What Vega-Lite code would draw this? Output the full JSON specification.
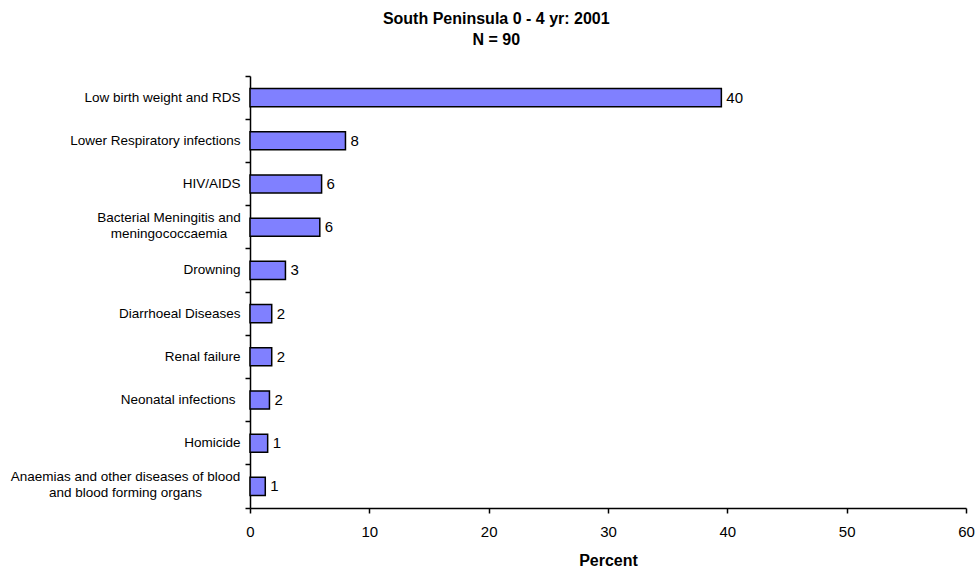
{
  "$schema": "https://vega.github.io/schema/vega-lite/v6.json",
  "autosize": "none",
  "padding": {"left": 250, "top": 76, "right": 12, "bottom": 66},
  "width": 716,
  "height": 432,
  "background": "white",
  "config": {
    "view": {"stroke": null},
    "font": "Liberation Sans, Arial, sans-serif"
  },
  "title": {
    "text": ["South Peninsula 0 - 4 yr: 2001", "N = 90"],
    "fontSize": 16,
    "fontWeight": "bold",
    "color": "black",
    "anchor": "middle",
    "frame": "bounds",
    "lineHeight": 21,
    "offset": 21,
    "dx": 4
  },
  "data": {
    "values": [
      {"cause": "Low birth weight and RDS", "percent": 39.5},
      {"cause": "Lower Respiratory infections", "percent": 8.0},
      {"cause": "HIV/AIDS", "percent": 6.0},
      {"cause": "Bacterial Meningitis and meningococcaemia", "percent": 5.85},
      {"cause": "Drowning", "percent": 2.97},
      {"cause": "Diarrhoeal Diseases", "percent": 1.82},
      {"cause": "Renal failure", "percent": 1.82},
      {"cause": "Neonatal infections", "percent": 1.63},
      {"cause": "Homicide", "percent": 1.48},
      {"cause": "Anaemias and other diseases of blood and blood forming organs", "percent": 1.28}
    ]
  },
  "encoding": {
    "y": {
      "field": "cause",
      "type": "nominal",
      "sort": null,
      "scale": {"paddingInner": 0, "paddingOuter": 0},
      "axis": {
        "title": null,
        "bandPosition": 1,
        "tickExtra": true,
        "domainColor": "black",
        "domainWidth": 1.5,
        "tickColor": "black",
        "tickWidth": 1.5,
        "tickSize": 5,
        "labelPadding": {
          "condition": [
            {"test": "datum.value == 'Bacterial Meningitis and meningococcaemia'", "value": 76.5},
            {"test": "datum.value == 'Anaemias and other diseases of blood and blood forming organs'", "value": 120},
            {"test": "datum.value == 'Neonatal infections'", "value": 10}
          ],
          "value": 5
        },
        "labelAlign": {
          "condition": {"test": "datum.value == 'Bacterial Meningitis and meningococcaemia' || datum.value == 'Anaemias and other diseases of blood and blood forming organs'", "value": "center"},
          "value": "right"
        },
        "labelOffset": {
          "condition": {"test": "datum.value == 'Bacterial Meningitis and meningococcaemia' || datum.value == 'Anaemias and other diseases of blood and blood forming organs'", "value": -9},
          "value": 0
        },
        "labelFontSize": 13.5,
        "labelColor": "black",
        "labelLineHeight": 16,
        "labelLimit": 300,
        "labelExpr": "datum.value == 'Bacterial Meningitis and meningococcaemia' ? ['Bacterial Meningitis and', 'meningococcaemia'] : datum.value == 'Anaemias and other diseases of blood and blood forming organs' ? ['Anaemias and other diseases of blood', 'and blood forming organs'] : datum.value"
      }
    },
    "x": {
      "field": "percent",
      "type": "quantitative",
      "scale": {"domain": [0, 60], "nice": false},
      "axis": {
        "title": "Percent",
        "titleFontSize": 16,
        "titleFontWeight": "bold",
        "titleColor": "black",
        "titlePadding": 13,
        "values": [0, 10, 20, 30, 40, 50, 60],
        "grid": false,
        "domainColor": "black",
        "domainWidth": 1.5,
        "tickColor": "black",
        "tickWidth": 1.5,
        "tickSize": 5,
        "labelPadding": 11,
        "labelFontSize": 15,
        "labelColor": "black",
        "labelFlush": false
      }
    }
  },
  "layer": [
    {
      "mark": {"type": "bar", "fill": "#8080FF", "stroke": "black", "strokeWidth": 1.5, "height": {"band": 0.42}}
    },
    {
      "mark": {"type": "text", "align": "left", "baseline": "middle", "dx": 5, "fontSize": 15, "color": "black"},
      "encoding": {"text": {"field": "percent", "type": "quantitative", "format": ".0f"}}
    }
  ]
}
